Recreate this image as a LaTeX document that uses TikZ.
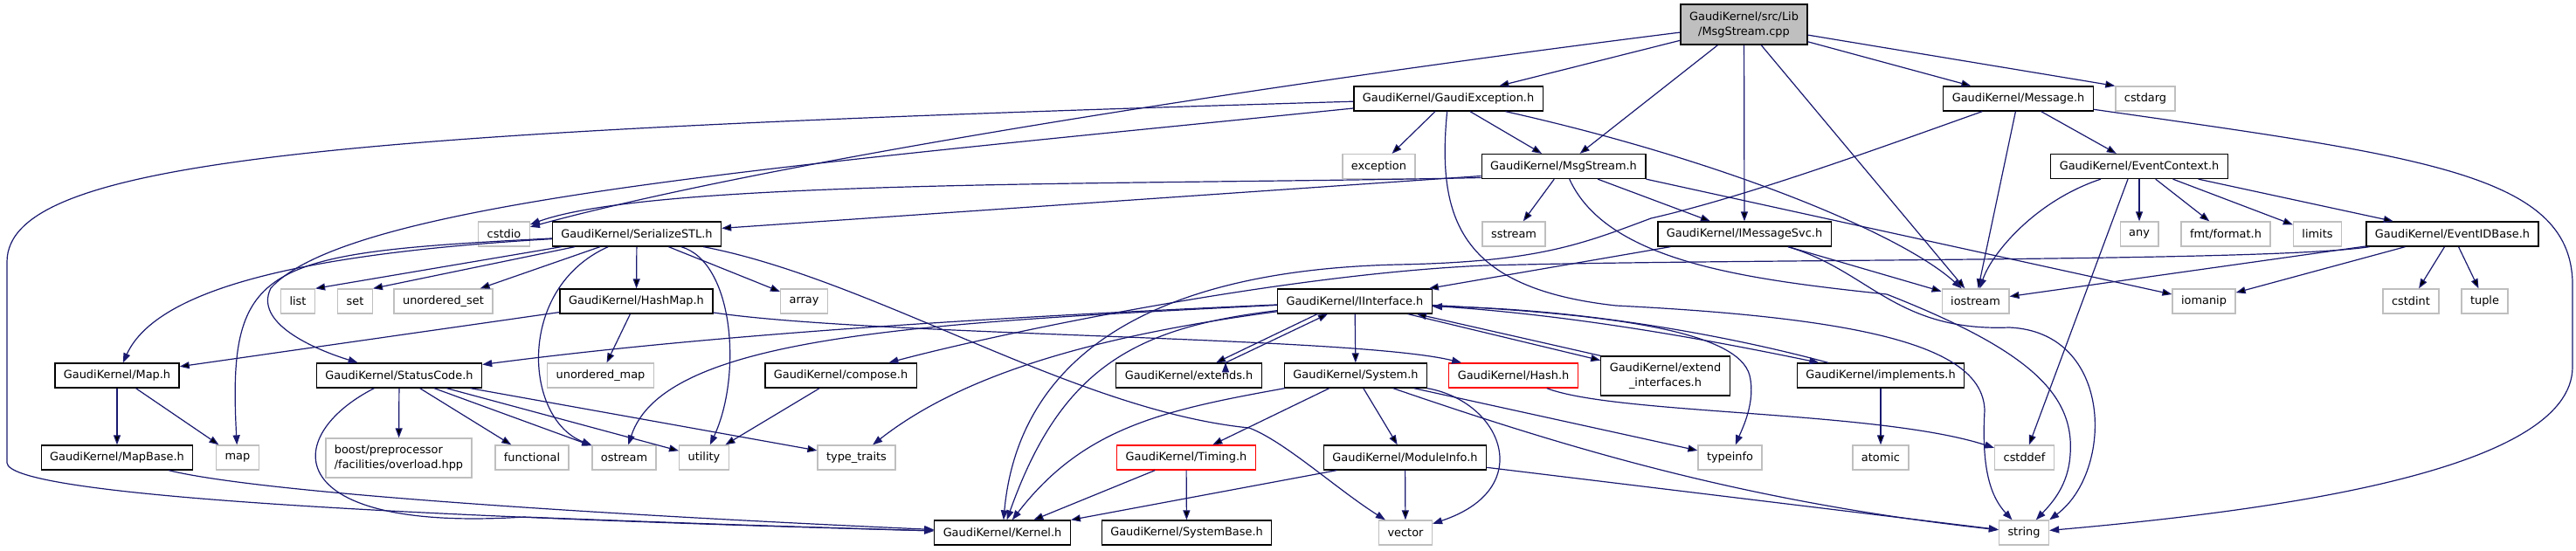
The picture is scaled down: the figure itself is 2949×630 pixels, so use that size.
\documentclass[tikz,border=0pt]{standalone}
\usepackage{fontspec}
\newfontfamily\dxfont{DejaVu Sans}
\usetikzlibrary{arrows.meta}
\definecolor{edgeblue}{HTML}{191970}
\definecolor{extgray}{HTML}{BFBFBF}
\begin{document}
\begin{tikzpicture}[x=1pt, y=-1pt, >={Triangle[length=11pt,width=8pt]},
    hfile/.style={draw=black, fill=white, line width=1.3pt, inner xsep=10pt, inner ysep=2pt,
                  minimum height=28pt, font={\dxfont\fontsize{12.9}{17}\selectfont}},
    sysfile/.style={hfile, draw=extgray},
    cutfile/.style={hfile, draw=red},
    rootfile/.style={hfile, fill=extgray, align=center, minimum height=46pt},
    dep/.style={->, draw=edgeblue, line width=1.2pt}]

    \useasboundingbox (0,0) rectangle (2949,630);

    \node [rootfile] (root) at (1996.5, 28) {GaudiKernel/src/Lib\\/MsgStream.cpp};
    \node [hfile] (gexc) at (1658, 113) {GaudiKernel/GaudiException.h};
    \node [hfile] (message) at (2310.5, 113) {GaudiKernel/Message.h};
    \node [sysfile] (cstdarg) at (2456, 113) {cstdarg};
    \node [sysfile] (exception) at (1578.5, 190.5) {exception};
    \node [hfile] (msgstreamh) at (1790, 190.5) {GaudiKernel/MsgStream.h};
    \node [hfile] (evctx) at (2449, 190.5) {GaudiKernel/EventContext.h};
    \node [sysfile] (cstdio) at (577, 268) {cstdio};
    \node [hfile] (serialstl) at (729, 268) {GaudiKernel/SerializeSTL.h};
    \node [sysfile] (sstream) at (1733, 268) {sstream};
    \node [hfile] (imsgsvc) at (1997, 268) {GaudiKernel/IMessageSvc.h};
    \node [sysfile] (any) at (2449, 268) {any};
    \node [sysfile] (fmtformat) at (2548, 268) {fmt/format.h};
    \node [sysfile] (limits) at (2653, 268) {limits};
    \node [hfile] (evidbase) at (2807.5, 268) {GaudiKernel/EventIDBase.h};
    \node [sysfile] (list) at (341, 345) {list};
    \node [sysfile] (set) at (406.5, 345) {set};
    \node [sysfile] (uset) at (507.5, 345) {unordered\_set};
    \node [hfile] (hashmap) at (728.5, 345) {GaudiKernel/HashMap.h};
    \node [sysfile] (array) at (920.5, 345) {array};
    \node [hfile] (iinterface) at (1551, 345) {GaudiKernel/IInterface.h};
    \node [sysfile] (iostream) at (2261.5, 345) {iostream};
    \node [sysfile] (iomanip) at (2523, 345) {iomanip};
    \node [sysfile] (cstdint) at (2760, 345) {cstdint};
    \node [sysfile] (tuple) at (2844.5, 345) {tuple};
    \node [hfile] (maph) at (134, 430) {GaudiKernel/Map.h};
    \node [hfile] (statuscode) at (457, 430) {GaudiKernel/StatusCode.h};
    \node [sysfile] (umap) at (687.5, 430) {unordered\_map};
    \node [hfile] (compose) at (962.5, 430) {GaudiKernel/compose.h};
    \node [hfile] (extends) at (1361, 430) {GaudiKernel/extends.h};
    \node [hfile] (system) at (1552, 430) {GaudiKernel/System.h};
    \node [cutfile] (hash) at (1732.5, 430) {GaudiKernel/Hash.h};
    \node [hfile, align=center, minimum height=45pt] (extif) at (1906.5, 430.5) {GaudiKernel/extend\\\_interfaces.h};
    \node [hfile] (implements) at (2153, 430) {GaudiKernel/implements.h};
    \node [hfile] (mapbase) at (134, 524) {GaudiKernel/MapBase.h};
    \node [sysfile] (stdmap) at (272, 524) {map};
    \node [sysfile, align=left, minimum height=45pt] (boost) at (456.5, 524.5) {boost/preprocessor\\/facilities/overload.hpp};
    \node [sysfile] (functional) at (609, 524) {functional};
    \node [sysfile] (ostream) at (714.5, 524) {ostream};
    \node [sysfile] (utility) at (806, 524) {utility};
    \node [sysfile] (typetraits) at (980.5, 524) {type\_traits};
    \node [cutfile] (timing) at (1358, 524) {GaudiKernel/Timing.h};
    \node [hfile] (moduleinfo) at (1608.5, 524) {GaudiKernel/ModuleInfo.h};
    \node [sysfile] (typeinfo) at (1980.5, 524) {typeinfo};
    \node [sysfile] (atomic) at (2153, 524) {atomic};
    \node [sysfile] (cstddef) at (2317.5, 524) {cstddef};
    \node [hfile] (kernel) at (1147.5, 610) {GaudiKernel/Kernel.h};
    \node [hfile] (systembase) at (1358.5, 610) {GaudiKernel/SystemBase.h};
    \node [sysfile] (vector) at (1609, 610) {vector};
    \node [sysfile] (string) at (2317, 610) {string};

 \path[dep]
      (root) edge (gexc)
      (root) edge (msgstreamh)
      (root) edge (imsgsvc)
      (root) edge (iostream)
      (root) edge (message)
      (root) edge (cstdarg.north west)
      (gexc) edge (exception)
      (gexc) edge (msgstreamh)
      ([yshift=-11pt]msgstreamh.west) edge (serialstl)
      (msgstreamh) edge (sstream)
      (msgstreamh) edge (imsgsvc)
      (msgstreamh.south east) edge (iomanip)
      (imsgsvc) edge (iinterface)
      (imsgsvc) edge (iostream)
      (message) edge (iostream)
      (message) edge (evctx)
      ([xshift=-13pt]evctx.south) edge (cstddef)
      (evctx) edge (any)
      (evctx) edge (fmtformat)
      (evctx) edge (limits)
      (evctx) edge (evidbase)
      (evidbase) edge (iostream)
      (evidbase) edge (iomanip)
      (evidbase) edge (cstdint)
      (evidbase) edge (tuple)
      (serialstl) edge (list.north east)
      (serialstl) edge (set.north east)
      (serialstl) edge (uset)
      (serialstl) edge (hashmap)
      (serialstl) edge (array)
      (hashmap) edge (maph)
      (hashmap) edge (umap)
      (maph) edge (mapbase)
      (maph) edge (stdmap)
      (statuscode) edge (boost)
      (statuscode) edge (functional)
      (statuscode) edge (ostream)
      (statuscode) edge (utility)
      (statuscode) edge (typetraits)
      (compose) edge (utility)
      (iinterface) edge (system)
      (iinterface) edge (extif)
      (extif.north west) edge ([xshift=71pt]iinterface.south)
      ([xshift=-43pt]iinterface.south) edge ([xshift=31pt]extends.north)
      ([xshift=42pt]extends.north) edge ([xshift=-31pt]iinterface.south)
      (system) edge (timing)
      (system) edge (moduleinfo)
      (system) edge (typeinfo)
      (timing) edge (kernel)
      (timing) edge (systembase)
      (moduleinfo) edge (kernel)
      (moduleinfo) edge (vector)
      (moduleinfo) edge (string)
      (implements) edge (atomic);

    % long and bent connectors
    \draw[dep] (root) .. controls (1500,90) and (900,180) .. (cstdio);
    \draw[dep] (gexc) .. controls (400,150) and (8,180) .. (8,300) -- (8,530) .. controls (10,565) and (400,590) .. (kernel);
    \draw[dep] (gexc) .. controls (900,190) and (400,230) .. (310,330) .. controls (290,370) and (360,400) .. (statuscode);
    \draw[dep] (gexc) .. controls (1980,185) and (2180,270) .. (iostream);
    \draw[dep] (gexc) .. controls (1645,250) and (1670,330) .. (1850,350) .. controls (2150,365) and (2270,400) .. (2272,470) .. controls (2268,540) and (2280,570) .. (string);
    \draw[dep] ([yshift=-13pt]msgstreamh.west) .. controls (1300,212) and (750,205) .. (cstdio);
    \draw[dep] (msgstreamh) .. controls (1840,300) and (2000,320) .. (2160,337) .. controls (2320,400) and (2375,450) .. (2370,520) .. controls (2368,555) and (2350,575) .. (string);
    \draw[dep] (imsgsvc) .. controls (2140,310) and (2170,380) .. (2300,375) .. controls (2420,380) and (2420,540) .. (string.north east);
    \draw[dep] (message) .. controls (2150,170) and (2000,225) .. (1890,250) .. controls (1810,280) and (1760,300) .. (1600,303) .. controls (1300,310) and (1165,420) .. (kernel);
    \draw[dep] (message) .. controls (2780,180) and (2948,200) .. (2945,330) -- (2945,420) .. controls (2945,540) and (2600,585) .. (string);
    \draw[dep] (evctx) .. controls (2330,230) and (2280,290) .. (iostream);
    \draw[dep] (evidbase) .. controls (2600,300) and (2000,296) .. (1700,304) .. controls (1470,314) and (1150,380) .. (compose);
    \draw[dep] (serialstl) .. controls (350,290) and (180,330) .. (maph);
    \draw[dep] (serialstl) .. controls (300,290) and (260,300) .. (stdmap);
    \draw[dep] (serialstl) .. controls (590,330) and (600,480) .. (ostream);
    \draw[dep] (serialstl) .. controls (840,300) and (850,430) .. (utility);
    \draw[dep] (serialstl) .. controls (1000,320) and (1230,470) .. (1430,490) .. controls (1470,505) and (1530,560) .. (vector);
    \draw[dep] (hashmap) .. controls (1000,385) and (1550,385) .. (hash);
    \draw[dep] (mapbase) .. controls (300,565) and (700,590) .. (kernel);
    \draw[dep] (statuscode) .. controls (320,500) and (320,610) .. (600,592) .. controls (800,600) and (1000,606) .. (kernel);
    \draw[dep] (iinterface) .. controls (1300,375) and (1215,420) .. (kernel);
    \draw[dep] (iinterface) .. controls (1100,365) and (800,385) .. (statuscode);
    \draw[dep] (iinterface) .. controls (1050,370) and (760,385) .. (ostream);
    \draw[dep] (iinterface) .. controls (1250,385) and (1100,430) .. (typetraits);
    \draw[dep] (iinterface) .. controls (1800,360) and (1960,390) .. (implements);
    \draw[dep] ([xshift=-60pt]implements.north) .. controls (1970,382) and (1800,353) .. ([yshift=-6pt]iinterface.east);
    \draw[dep] (iinterface) .. controls (1850,360) and (1990,380) .. (2003,430) .. controls (2010,460) and (1995,490) .. (typeinfo);
    \draw[dep] (system) .. controls (1330,470) and (1240,490) .. (kernel);
    \draw[dep] (system) .. controls (1720,460) and (1760,560) .. (vector);
    \draw[dep] (system) .. controls (1800,515) and (2000,575) .. (string);
    \draw[dep] (hash) .. controls (1850,475) and (2150,470) .. (cstddef);
\end{tikzpicture}
\end{document}
